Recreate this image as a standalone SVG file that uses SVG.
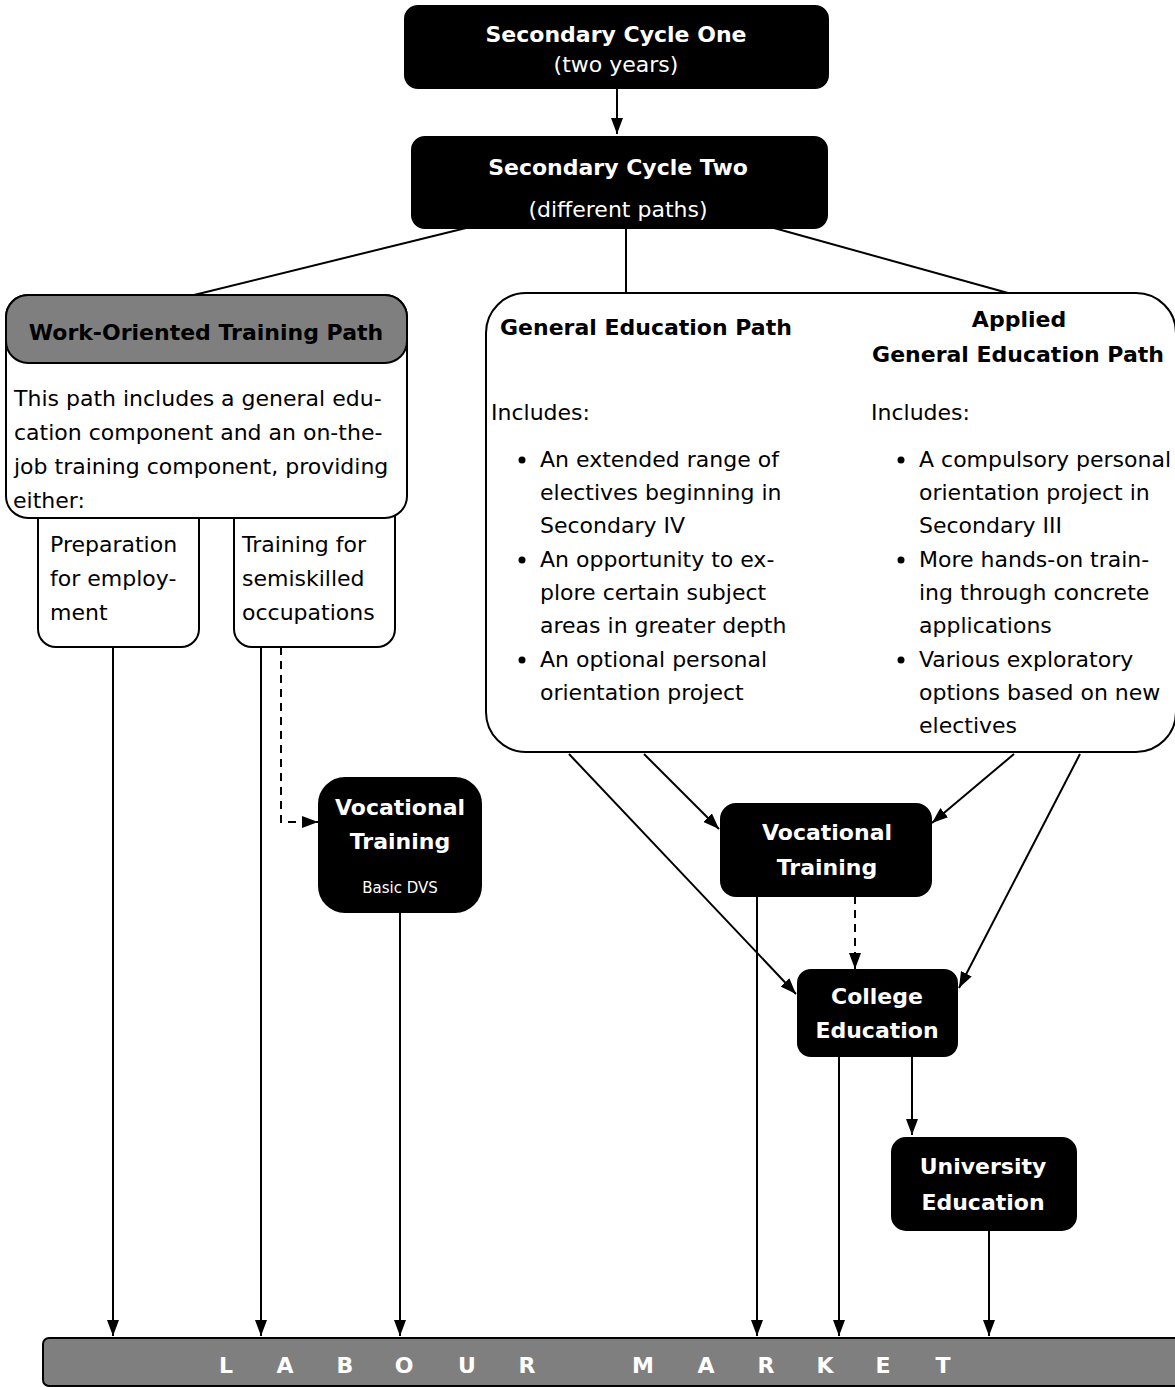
<svg xmlns="http://www.w3.org/2000/svg" width="1175" height="1387" viewBox="0 0 1175 1387">
<defs>
<marker id="ah" viewBox="0 0 16 12" refX="16" refY="6" markerWidth="16" markerHeight="12" markerUnits="userSpaceOnUse" orient="auto">
<path d="M0,0 L16,6 L0,12 z" fill="#000"/>
</marker>
<style>
text{font-family:"DejaVu Sans",sans-serif;font-size:22px}
.b{font-weight:bold}
.w{fill:#fff}
.c{text-anchor:middle}
.blk{fill:#000;stroke:#000;stroke-width:2}
.wb{fill:#fff;stroke:#000;stroke-width:2}
.gr{fill:#7f7f7f;stroke:#000;stroke-width:2}
.ln{stroke:#000;stroke-width:2;fill:none}
.ar{stroke:#000;stroke-width:2;fill:none;marker-end:url(#ah)}
.da{stroke:#000;stroke-width:2;fill:none;stroke-dasharray:8,6;marker-end:url(#ah)}
.sm{font-size:15px}
</style>
</defs>

<g id="connectors">
<line class="ar" x1="617" y1="88" x2="617" y2="134"/>
<line class="ln" x1="466" y1="228" x2="190" y2="296"/>
<line class="ln" x1="626" y1="228" x2="626" y2="293"/>
<line class="ln" x1="774" y1="228" x2="1008" y2="293"/>
<line class="da" x1="800" y1="446" x2="861" y2="446"/>
<line class="da" x1="864" y1="469" x2="801" y2="469"/>
<polyline class="da" points="281,647 281,822 318,822"/>
<line class="ar" x1="113" y1="647" x2="113" y2="1336"/>
<line class="ar" x1="261" y1="647" x2="261" y2="1336"/>
<line class="ar" x1="400" y1="912" x2="400" y2="1336"/>
<line class="ar" x1="569" y1="754" x2="796" y2="994"/>
<line class="ar" x1="644" y1="754" x2="719" y2="829"/>
<line class="ar" x1="1014" y1="754" x2="932" y2="823"/>
<line class="ar" x1="1080" y1="754" x2="959" y2="988"/>
<line class="da" x1="855" y1="896" x2="855" y2="969"/>
<line class="ar" x1="757" y1="896" x2="757" y2="1336"/>
<line class="ar" x1="839" y1="1056" x2="839" y2="1336"/>
<line class="ar" x1="912" y1="1056" x2="912" y2="1135"/>
<line class="ar" x1="989" y1="1230" x2="989" y2="1336"/>
</g>

<g id="cycle-one">
<rect class="blk" x="405" y="6" width="423" height="82" rx="13"/>
<text class="b w c" x="616" y="42">Secondary Cycle One</text>
<text class="w c" x="616" y="72">(two years)</text>
</g>

<g id="cycle-two">
<rect class="blk" x="412" y="137" width="415" height="91" rx="13"/>
<text class="b w c" x="618" y="175">Secondary Cycle Two</text>
<text class="w c" x="618" y="217">(different paths)</text>
</g>

<g id="prep-employment">
<rect class="wb" x="38" y="490" width="161" height="157" rx="18"/>
<text x="50" y="552">Preparation</text>
<text x="50" y="586">for employ-</text>
<text x="50" y="620">ment</text>
</g>

<g id="semiskilled">
<rect class="wb" x="234" y="490" width="161" height="157" rx="18"/>
<text x="242" y="552">Training for</text>
<text x="242" y="586">semiskilled</text>
<text x="242" y="620">occupations</text>
</g>

<g id="work-oriented">
<rect class="wb" x="6" y="295" width="401" height="223" rx="22"/>
<rect class="gr" x="6" y="295" width="401" height="68" rx="22"/>
<text class="b c" x="206" y="340">Work-Oriented Training Path</text>
<text x="14" y="406">This path includes a general edu-</text>
<text x="14" y="440">cation component and an on-the-</text>
<text x="14" y="474">job training component, providing</text>
<text x="13" y="508">either:</text>
</g>

<g id="general-paths">
<rect class="wb" x="486" y="293" width="690" height="459" rx="40"/>
<text class="b" x="500" y="335">General Education Path</text>
<text class="b c" x="1019" y="327">Applied</text>
<text class="b c" x="1018" y="362">General Education Path</text>
<text x="491" y="420">Includes:</text>
<text x="871" y="420">Includes:</text>
<circle cx="522" cy="460" r="3.5"/>
<circle cx="522" cy="560" r="3.5"/>
<circle cx="522" cy="660" r="3.5"/>
<text x="540" y="467">An extended range of</text>
<text x="540" y="500">electives beginning in</text>
<text x="540" y="533">Secondary IV</text>
<text x="540" y="567">An opportunity to ex-</text>
<text x="540" y="600">plore certain subject</text>
<text x="540" y="633">areas in greater depth</text>
<text x="540" y="667">An optional personal</text>
<text x="540" y="700">orientation project</text>
<circle cx="901" cy="460" r="3.5"/>
<circle cx="901" cy="560" r="3.5"/>
<circle cx="901" cy="660" r="3.5"/>
<text x="919" y="467">A compulsory personal</text>
<text x="919" y="500">orientation project in</text>
<text x="919" y="533">Secondary III</text>
<text x="919" y="567">More hands-on train-</text>
<text x="919" y="600">ing through concrete</text>
<text x="919" y="633">applications</text>
<text x="919" y="667">Various exploratory</text>
<text x="919" y="700">options based on new</text>
<text x="919" y="733">electives</text>
</g>

<g id="vocational-basic">
<rect class="blk" x="319" y="778" width="162" height="134" rx="26"/>
<text class="b w c" x="400" y="815">Vocational</text>
<text class="b w c" x="400" y="849">Training</text>
<text class="w c sm" x="400" y="893">Basic DVS</text>
</g>

<g id="vocational">
<rect class="blk" x="721" y="804" width="210" height="92" rx="15"/>
<text class="b w c" x="827" y="840">Vocational</text>
<text class="b w c" x="827" y="875">Training</text>
</g>

<g id="college">
<rect class="blk" x="798" y="970" width="159" height="86" rx="13"/>
<text class="b w c" x="877" y="1004">College</text>
<text class="b w c" x="877" y="1038">Education</text>
</g>

<g id="university">
<rect class="blk" x="892" y="1138" width="184" height="92" rx="14"/>
<text class="b w c" x="983" y="1174">University</text>
<text class="b w c" x="983" y="1210">Education</text>
</g>

<g id="labour-market">
<rect class="gr" x="43" y="1338" width="1140" height="48" rx="6"/>
<text class="b w c" x="226 285 345 404 467 527 585 643 706 766 825 883 943" y="1373">LABOUR MARKET</text>
</g>
</svg>
